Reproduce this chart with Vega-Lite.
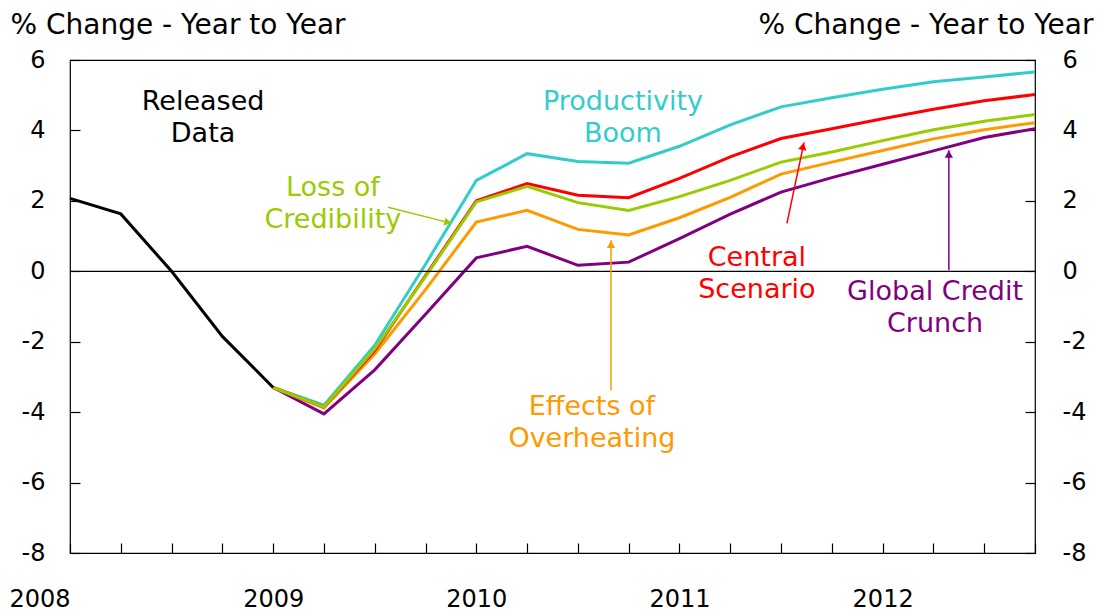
{
  "$schema": "https://vega.github.io/schema/vega-lite/v6.json",
  "width": 965,
  "height": 493,
  "autosize": {"type": "none"},
  "padding": {"left": 70, "top": 60, "right": 69, "bottom": 58},
  "background": "white",
  "config": {
    "view": {"stroke": "#000000", "strokeWidth": 1.2},
    "font": "DejaVu Sans",
    "axis": {
      "grid": false, "domain": false, "tickColor": "#000000", "tickSize": -10, "tickWidth": 1.2,
      "labelFont": "DejaVu Sans", "labelFontSize": 24, "labelColor": "#000000",
      "titleFont": "DejaVu Sans", "titleFontSize": 28, "titleFontWeight": "normal", "titleColor": "#000000"
    }
  },
  "datasets": {
    "series": [
      {"series": "Released Data", "q": 2008, "v": 2.07},
      {"series": "Released Data", "q": 2008.25, "v": 1.63},
      {"series": "Released Data", "q": 2008.5, "v": 0.0},
      {"series": "Released Data", "q": 2008.75, "v": -1.85},
      {"series": "Released Data", "q": 2009, "v": -3.3},

      {"series": "Productivity Boom", "q": 2009, "v": -3.3},
      {"series": "Productivity Boom", "q": 2009.25, "v": -3.8},
      {"series": "Productivity Boom", "q": 2009.5, "v": -2.1},
      {"series": "Productivity Boom", "q": 2009.75, "v": 0.2},
      {"series": "Productivity Boom", "q": 2010, "v": 2.58},
      {"series": "Productivity Boom", "q": 2010.25, "v": 3.34},
      {"series": "Productivity Boom", "q": 2010.5, "v": 3.12},
      {"series": "Productivity Boom", "q": 2010.75, "v": 3.07},
      {"series": "Productivity Boom", "q": 2011, "v": 3.55},
      {"series": "Productivity Boom", "q": 2011.25, "v": 4.16},
      {"series": "Productivity Boom", "q": 2011.5, "v": 4.67},
      {"series": "Productivity Boom", "q": 2011.75, "v": 4.93},
      {"series": "Productivity Boom", "q": 2012, "v": 5.17},
      {"series": "Productivity Boom", "q": 2012.25, "v": 5.38},
      {"series": "Productivity Boom", "q": 2012.5, "v": 5.52},
      {"series": "Productivity Boom", "q": 2012.75, "v": 5.66},

      {"series": "Global Credit Crunch", "q": 2009, "v": -3.3},
      {"series": "Global Credit Crunch", "q": 2009.25, "v": -4.05},
      {"series": "Global Credit Crunch", "q": 2009.5, "v": -2.8},
      {"series": "Global Credit Crunch", "q": 2009.75, "v": -1.22},
      {"series": "Global Credit Crunch", "q": 2010, "v": 0.38},
      {"series": "Global Credit Crunch", "q": 2010.25, "v": 0.71},
      {"series": "Global Credit Crunch", "q": 2010.5, "v": 0.17},
      {"series": "Global Credit Crunch", "q": 2010.75, "v": 0.26},
      {"series": "Global Credit Crunch", "q": 2011, "v": 0.93},
      {"series": "Global Credit Crunch", "q": 2011.25, "v": 1.62},
      {"series": "Global Credit Crunch", "q": 2011.5, "v": 2.25},
      {"series": "Global Credit Crunch", "q": 2011.75, "v": 2.66},
      {"series": "Global Credit Crunch", "q": 2012, "v": 3.04},
      {"series": "Global Credit Crunch", "q": 2012.25, "v": 3.42},
      {"series": "Global Credit Crunch", "q": 2012.5, "v": 3.8},
      {"series": "Global Credit Crunch", "q": 2012.75, "v": 4.05},

      {"series": "Effects of Overheating", "q": 2009, "v": -3.3},
      {"series": "Effects of Overheating", "q": 2009.25, "v": -3.88},
      {"series": "Effects of Overheating", "q": 2009.5, "v": -2.35},
      {"series": "Effects of Overheating", "q": 2009.75, "v": -0.52},
      {"series": "Effects of Overheating", "q": 2010, "v": 1.4},
      {"series": "Effects of Overheating", "q": 2010.25, "v": 1.73},
      {"series": "Effects of Overheating", "q": 2010.5, "v": 1.19},
      {"series": "Effects of Overheating", "q": 2010.75, "v": 1.03},
      {"series": "Effects of Overheating", "q": 2011, "v": 1.52},
      {"series": "Effects of Overheating", "q": 2011.25, "v": 2.1},
      {"series": "Effects of Overheating", "q": 2011.5, "v": 2.76},
      {"series": "Effects of Overheating", "q": 2011.75, "v": 3.1},
      {"series": "Effects of Overheating", "q": 2012, "v": 3.43},
      {"series": "Effects of Overheating", "q": 2012.25, "v": 3.76},
      {"series": "Effects of Overheating", "q": 2012.5, "v": 4.02},
      {"series": "Effects of Overheating", "q": 2012.75, "v": 4.22},

      {"series": "Central Scenario", "q": 2009, "v": -3.3},
      {"series": "Central Scenario", "q": 2009.25, "v": -3.85},
      {"series": "Central Scenario", "q": 2009.5, "v": -2.25},
      {"series": "Central Scenario", "q": 2009.75, "v": -0.12},
      {"series": "Central Scenario", "q": 2010, "v": 2.0},
      {"series": "Central Scenario", "q": 2010.25, "v": 2.49},
      {"series": "Central Scenario", "q": 2010.5, "v": 2.16},
      {"series": "Central Scenario", "q": 2010.75, "v": 2.09},
      {"series": "Central Scenario", "q": 2011, "v": 2.64},
      {"series": "Central Scenario", "q": 2011.25, "v": 3.25},
      {"series": "Central Scenario", "q": 2011.5, "v": 3.77},
      {"series": "Central Scenario", "q": 2011.75, "v": 4.05},
      {"series": "Central Scenario", "q": 2012, "v": 4.33},
      {"series": "Central Scenario", "q": 2012.25, "v": 4.6},
      {"series": "Central Scenario", "q": 2012.5, "v": 4.84},
      {"series": "Central Scenario", "q": 2012.75, "v": 5.02},

      {"series": "Loss of Credibility", "q": 2009, "v": -3.3},
      {"series": "Loss of Credibility", "q": 2009.25, "v": -3.85},
      {"series": "Loss of Credibility", "q": 2009.5, "v": -2.2},
      {"series": "Loss of Credibility", "q": 2009.75, "v": -0.15},
      {"series": "Loss of Credibility", "q": 2010, "v": 1.97},
      {"series": "Loss of Credibility", "q": 2010.25, "v": 2.41},
      {"series": "Loss of Credibility", "q": 2010.5, "v": 1.95},
      {"series": "Loss of Credibility", "q": 2010.75, "v": 1.73},
      {"series": "Loss of Credibility", "q": 2011, "v": 2.12},
      {"series": "Loss of Credibility", "q": 2011.25, "v": 2.58},
      {"series": "Loss of Credibility", "q": 2011.5, "v": 3.1},
      {"series": "Loss of Credibility", "q": 2011.75, "v": 3.39},
      {"series": "Loss of Credibility", "q": 2012, "v": 3.71},
      {"series": "Loss of Credibility", "q": 2012.25, "v": 4.02},
      {"series": "Loss of Credibility", "q": 2012.5, "v": 4.26},
      {"series": "Loss of Credibility", "q": 2012.75, "v": 4.45}
    ],
    "notes": [
      {"series": "Released Data", "label": "Released\nData", "q": 2008.655, "v": 4.8},
      {"series": "Productivity Boom", "label": "Productivity\nBoom", "q": 2010.722, "v": 4.8},
      {"series": "Loss of Credibility", "label": "Loss of\nCredibility", "q": 2009.294, "v": 2.36},
      {"series": "Central Scenario", "label": "Central\nScenario", "q": 2011.381, "v": 0.37},
      {"series": "Global Credit Crunch", "label": "Global Credit\nCrunch", "q": 2012.258, "v": -0.6},
      {"series": "Effects of Overheating", "label": "Effects of\nOverheating", "q": 2010.569, "v": -3.84}
    ],
    "arrows": [
      {"series": "Loss of Credibility", "q": 2009.565, "v": 1.82, "q2": 2009.88, "v2": 1.36},
      {"series": "Central Scenario", "q": 2011.529, "v": 1.36, "q2": 2011.613, "v2": 3.66},
      {"series": "Global Credit Crunch", "q": 2012.326, "v": 0.03, "q2": 2012.326, "v2": 3.44},
      {"series": "Effects of Overheating", "q": 2010.663, "v": -3.38, "q2": 2010.663, "v2": 0.88}
    ]
  },
  "layer": [
    {
      "data": {"name": "series"},
      "transform": [{"filter": "datum.series != 'Released Data'"}],
      "mark": {"type": "line", "strokeWidth": 3},
      "encoding": {
        "x": {
          "field": "q", "type": "quantitative",
          "scale": {"domain": [2008, 2012.75], "nice": false, "zero": false},
          "axis": {
            "title": null,
            "values": [2008, 2008.25, 2008.5, 2008.75, 2009, 2009.25, 2009.5, 2009.75, 2010, 2010.25, 2010.5, 2010.75, 2011, 2011.25, 2011.5, 2011.75, 2012, 2012.25, 2012.5, 2012.75],
            "labelExpr": "datum.value % 1 == 0 ? format(datum.value, 'd') : ''",
            "labelFlush": false,
            "labelOverlap": false,
            "labelPadding": 44,
            "labelBaseline": "top",
            "labelAlign": {"condition": {"test": "datum.value == 2008", "value": "right"}, "value": "center"}
          }
        },
        "y": {
          "field": "v", "type": "quantitative",
          "scale": {"domain": [-8, 6], "nice": false, "zero": false},
          "axis": {
            "orient": "left",
            "values": [-8, -6, -4, -2, 0, 2, 4, 6],
            "labelExpr": "'' + datum.value",
            "labelPadding": 35,
            "title": "% Change - Year to Year",
            "titleAngle": 0, "titleAlign": "left", "titleBaseline": "alphabetic",
            "titleX": -60, "titleY": -27
          }
        },
        "color": {
          "field": "series", "type": "nominal", "legend": null,
          "scale": {
            "domain": ["Released Data", "Productivity Boom", "Central Scenario", "Loss of Credibility", "Effects of Overheating", "Global Credit Crunch"],
            "range": ["#000000", "#33CCCC", "#FF0000", "#99CC00", "#FF9900", "#800080"]
          }
        }
      }
    },
    {
      "data": {"name": "series"},
      "transform": [{"filter": "datum.series == 'Released Data'"}],
      "mark": {"type": "line", "strokeWidth": 3},
      "encoding": {
        "x": {"field": "q", "type": "quantitative"},
        "y": {"field": "v", "type": "quantitative", "axis": null},
        "color": {"field": "series", "type": "nominal", "legend": null}
      }
    },
    {
      "data": {"values": [{"v": 0}]},
      "mark": {"type": "rule", "color": "#000000", "strokeWidth": 1.2},
      "encoding": {
        "y": {
          "field": "v", "type": "quantitative",
          "axis": {
            "orient": "right",
            "values": [-8, -6, -4, -2, 0, 2, 4, 6],
            "labelExpr": "'' + datum.value",
            "labelPadding": 37,
            "title": "% Change - Year to Year",
            "titleAngle": 0, "titleAlign": "right", "titleBaseline": "alphabetic",
            "titleX": 58, "titleY": -27
          }
        }
      }
    },
    {
      "data": {"name": "arrows"},
      "mark": {"type": "rule", "strokeWidth": 1.5},
      "encoding": {
        "x": {"field": "q", "type": "quantitative"},
        "y": {"field": "v", "type": "quantitative", "axis": null},
        "x2": {"field": "q2"},
        "y2": {"field": "v2"},
        "color": {"field": "series", "type": "nominal", "legend": null}
      }
    },
    {
      "data": {"name": "arrows"},
      "transform": [{"filter": "datum.series == 'Global Credit Crunch' || datum.series == 'Effects of Overheating'"}],
      "mark": {"type": "point", "shape": "triangle-up", "filled": true, "opacity": 1, "size": 70, "yOffset": 4},
      "encoding": {
        "x": {"field": "q2", "type": "quantitative"},
        "y": {"field": "v2", "type": "quantitative", "axis": null},
        "color": {"field": "series", "type": "nominal", "legend": null}
      }
    },
    {
      "data": {"name": "arrows"},
      "transform": [{"filter": "datum.series == 'Central Scenario'"}],
      "mark": {"type": "point", "shape": "triangle-up", "filled": true, "opacity": 1, "size": 70, "angle": 12, "xOffset": -1, "yOffset": 4},
      "encoding": {
        "x": {"field": "q2", "type": "quantitative"},
        "y": {"field": "v2", "type": "quantitative", "axis": null},
        "color": {"field": "series", "type": "nominal", "legend": null}
      }
    },
    {
      "data": {"name": "arrows"},
      "transform": [{"filter": "datum.series == 'Loss of Credibility'"}],
      "mark": {"type": "point", "shape": "triangle-up", "filled": true, "opacity": 1, "size": 70, "angle": 104, "xOffset": -4, "yOffset": -1},
      "encoding": {
        "x": {"field": "q2", "type": "quantitative"},
        "y": {"field": "v2", "type": "quantitative", "axis": null},
        "color": {"field": "series", "type": "nominal", "legend": null}
      }
    },
    {
      "data": {"name": "notes"},
      "mark": {"type": "text", "font": "DejaVu Sans", "fontSize": 27, "lineHeight": 32, "align": "center", "baseline": "middle", "lineBreak": "\n"},
      "encoding": {
        "x": {"field": "q", "type": "quantitative"},
        "y": {"field": "v", "type": "quantitative", "axis": null},
        "text": {"field": "label"},
        "color": {"field": "series", "type": "nominal", "legend": null}
      }
    }
  ],
  "resolve": {"axis": {"y": "independent"}}
}
